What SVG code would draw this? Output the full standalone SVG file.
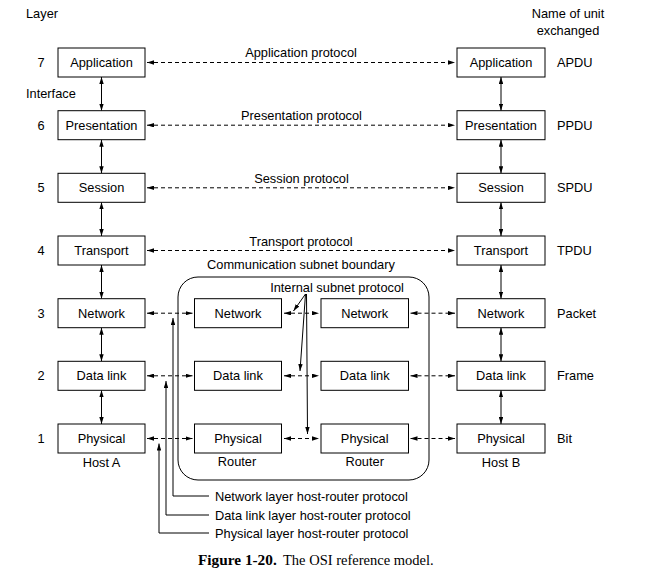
<svg xmlns="http://www.w3.org/2000/svg" width="664" height="585" viewBox="0 0 664 585">
  <style>
    text { font-family: "Liberation Sans", Arial, sans-serif; font-size: 12.8px; fill: #000; }
    .c { text-anchor: middle; }
    .box { fill: #fff; stroke: #000; stroke-width: 1; }
    .solid { fill: none; stroke: #000; stroke-width: 1; }
    .dash { fill: none; stroke: #000; stroke-width: 1; stroke-dasharray: 4 3; }
    .cap { font-family: "Liberation Serif", "Times New Roman", serif; font-size: 14.5px; }
  </style>
  <defs>
    <marker id="ah" viewBox="0 0 7 4.4" refX="7" refY="2.2" markerWidth="7" markerHeight="4.4" markerUnits="userSpaceOnUse" orient="auto-start-reverse">
      <path d="M0,0 L7,2.2 L0,4.4 z" fill="#000"/>
    </marker>
  </defs>
  <rect width="664" height="585" fill="#fff"/>

  <!-- column headings and side labels -->
  <g id="headings">
    <text x="26" y="18">Layer</text>
    <text x="26" y="98">Interface</text>
    <text x="568" y="18" class="c">Name of unit</text>
    <text x="568" y="35" class="c">exchanged</text>
    <text x="41" y="67" class="c">7</text>
    <text x="41" y="129.7" class="c">6</text>
    <text x="41" y="192.3" class="c">5</text>
    <text x="41" y="255" class="c">4</text>
    <text x="41" y="317.7" class="c">3</text>
    <text x="41" y="380.3" class="c">2</text>
    <text x="41" y="443" class="c">1</text>
    <text x="557" y="67">APDU</text>
    <text x="557" y="129.7">PPDU</text>
    <text x="557" y="192.3">SPDU</text>
    <text x="557" y="255">TPDU</text>
    <text x="557" y="317.7">Packet</text>
    <text x="557" y="380.3">Frame</text>
    <text x="557" y="443">Bit</text>
  </g>

  <!-- communication subnet boundary -->
  <g id="subnet">
    <rect x="178" y="277" width="251" height="203" rx="20" class="solid"/>
    <text x="301" y="269" class="c">Communication subnet boundary</text>
  </g>

  <!-- connectors -->
  <g id="connectors">
    <!-- peer protocols between hosts -->
    <path d="M147,62.5 H455" class="dash" marker-start="url(#ah)" marker-end="url(#ah)"/>
    <path d="M147,125.2 H455" class="dash" marker-start="url(#ah)" marker-end="url(#ah)"/>
    <path d="M147,187.8 H455" class="dash" marker-start="url(#ah)" marker-end="url(#ah)"/>
    <path d="M147,250.5 H455" class="dash" marker-start="url(#ah)" marker-end="url(#ah)"/>
    <!-- host-router and router-router protocols -->
    <path d="M147,313.2 H192.5" class="dash" marker-start="url(#ah)" marker-end="url(#ah)"/>
    <path d="M284,313.2 H319" class="dash" marker-start="url(#ah)" marker-end="url(#ah)"/>
    <path d="M410.5,313.2 H455" class="dash" marker-start="url(#ah)" marker-end="url(#ah)"/>
    <path d="M147,375.8 H192.5" class="dash" marker-start="url(#ah)" marker-end="url(#ah)"/>
    <path d="M284,375.8 H319" class="dash" marker-start="url(#ah)" marker-end="url(#ah)"/>
    <path d="M410.5,375.8 H455" class="dash" marker-start="url(#ah)" marker-end="url(#ah)"/>
    <path d="M147,438.5 H192.5" class="dash" marker-start="url(#ah)" marker-end="url(#ah)"/>
    <path d="M284,438.5 H319" class="dash" marker-start="url(#ah)" marker-end="url(#ah)"/>
    <path d="M410.5,438.5 H455" class="dash" marker-start="url(#ah)" marker-end="url(#ah)"/>

    <!-- interfaces between layers, host A -->
    <path d="M101.5,77 V110.7" class="solid" marker-start="url(#ah)" marker-end="url(#ah)"/>
    <path d="M101.5,139.7 V173.3" class="solid" marker-start="url(#ah)" marker-end="url(#ah)"/>
    <path d="M101.5,202.3 V236" class="solid" marker-start="url(#ah)" marker-end="url(#ah)"/>
    <path d="M101.5,265 V298.7" class="solid" marker-start="url(#ah)" marker-end="url(#ah)"/>
    <path d="M101.5,327.7 V361.3" class="solid" marker-start="url(#ah)" marker-end="url(#ah)"/>
    <path d="M101.5,390.3 V424" class="solid" marker-start="url(#ah)" marker-end="url(#ah)"/>
    <!-- interfaces between layers, host B -->
    <path d="M501,77 V110.7" class="solid" marker-start="url(#ah)" marker-end="url(#ah)"/>
    <path d="M501,139.7 V173.3" class="solid" marker-start="url(#ah)" marker-end="url(#ah)"/>
    <path d="M501,202.3 V236" class="solid" marker-start="url(#ah)" marker-end="url(#ah)"/>
    <path d="M501,265 V298.7" class="solid" marker-start="url(#ah)" marker-end="url(#ah)"/>
    <path d="M501,327.7 V361.3" class="solid" marker-start="url(#ah)" marker-end="url(#ah)"/>
    <path d="M501,390.3 V424" class="solid" marker-start="url(#ah)" marker-end="url(#ah)"/>

    <!-- internal subnet protocol pointers -->
    <path d="M305.5,294 L293.5,311" class="solid" marker-end="url(#ah)"/>
    <path d="M305.5,294 L300,371" class="solid" marker-end="url(#ah)"/>
    <path d="M306.5,294 L307.5,434" class="solid" marker-end="url(#ah)"/>

    <!-- host-router protocol pointers -->
    <path d="M209,496 H173 V318" class="solid" marker-end="url(#ah)"/>
    <path d="M209,515 H166 V381" class="solid" marker-end="url(#ah)"/>
    <path d="M209,533 H159 V443.5" class="solid" marker-end="url(#ah)"/>
  </g>

  <!-- protocol labels -->
  <g id="protocol-labels">
    <text x="301" y="57" class="c">Application protocol</text>
    <text x="301.5" y="120" class="c">Presentation protocol</text>
    <text x="301.5" y="183" class="c">Session protocol</text>
    <text x="301" y="245.5" class="c">Transport protocol</text>
    <text x="337" y="292" class="c">Internal subnet protocol</text>
    <text x="215" y="500.5">Network layer host-router protocol</text>
    <text x="215" y="519.5">Data link layer host-router protocol</text>
    <text x="215" y="538">Physical layer host-router protocol</text>
  </g>

  <!-- host A -->
  <g id="hostA-application"><rect x="58" y="48" width="87" height="29" class="box"/><text x="101.5" y="67" class="c">Application</text></g>
  <g id="hostA-presentation"><rect x="58" y="110.7" width="87" height="29" class="box"/><text x="101.5" y="129.7" class="c">Presentation</text></g>
  <g id="hostA-session"><rect x="58" y="173.3" width="87" height="29" class="box"/><text x="101.5" y="192.3" class="c">Session</text></g>
  <g id="hostA-transport"><rect x="58" y="236" width="87" height="29" class="box"/><text x="101.5" y="255" class="c">Transport</text></g>
  <g id="hostA-network"><rect x="58" y="298.7" width="87" height="29" class="box"/><text x="101.5" y="317.7" class="c">Network</text></g>
  <g id="hostA-datalink"><rect x="58" y="361.3" width="87" height="29" class="box"/><text x="101.5" y="380.3" class="c">Data link</text></g>
  <g id="hostA-physical"><rect x="58" y="424" width="87" height="29" class="box"/><text x="101.5" y="443" class="c">Physical</text></g>
  <text x="101.5" y="467" class="c">Host A</text>

  <!-- router 1 -->
  <g id="router1-network"><rect x="194.5" y="298.7" width="87" height="29" class="box"/><text x="238" y="317.7" class="c">Network</text></g>
  <g id="router1-datalink"><rect x="194.5" y="361.3" width="87" height="29" class="box"/><text x="238" y="380.3" class="c">Data link</text></g>
  <g id="router1-physical"><rect x="194.5" y="424" width="87" height="29" class="box"/><text x="238" y="443" class="c">Physical</text></g>
  <text x="237" y="466" class="c">Router</text>

  <!-- router 2 -->
  <g id="router2-network"><rect x="321" y="298.7" width="87.5" height="29" class="box"/><text x="364.7" y="317.7" class="c">Network</text></g>
  <g id="router2-datalink"><rect x="321" y="361.3" width="87.5" height="29" class="box"/><text x="364.7" y="380.3" class="c">Data link</text></g>
  <g id="router2-physical"><rect x="321" y="424" width="87.5" height="29" class="box"/><text x="364.7" y="443" class="c">Physical</text></g>
  <text x="364.7" y="466" class="c">Router</text>

  <!-- host B -->
  <g id="hostB-application"><rect x="457" y="48" width="88" height="29" class="box"/><text x="501" y="67" class="c">Application</text></g>
  <g id="hostB-presentation"><rect x="457" y="110.7" width="88" height="29" class="box"/><text x="501" y="129.7" class="c">Presentation</text></g>
  <g id="hostB-session"><rect x="457" y="173.3" width="88" height="29" class="box"/><text x="501" y="192.3" class="c">Session</text></g>
  <g id="hostB-transport"><rect x="457" y="236" width="88" height="29" class="box"/><text x="501" y="255" class="c">Transport</text></g>
  <g id="hostB-network"><rect x="457" y="298.7" width="88" height="29" class="box"/><text x="501" y="317.7" class="c">Network</text></g>
  <g id="hostB-datalink"><rect x="457" y="361.3" width="88" height="29" class="box"/><text x="501" y="380.3" class="c">Data link</text></g>
  <g id="hostB-physical"><rect x="457" y="424" width="88" height="29" class="box"/><text x="501" y="443" class="c">Physical</text></g>
  <text x="501" y="467" class="c">Host B</text>

  <!-- caption -->
  <text x="198" y="565" class="cap"><tspan font-weight="bold" font-size="15.3px">Figure 1-20.</tspan><tspan x="283">The OSI reference model.</tspan></text>
</svg>
